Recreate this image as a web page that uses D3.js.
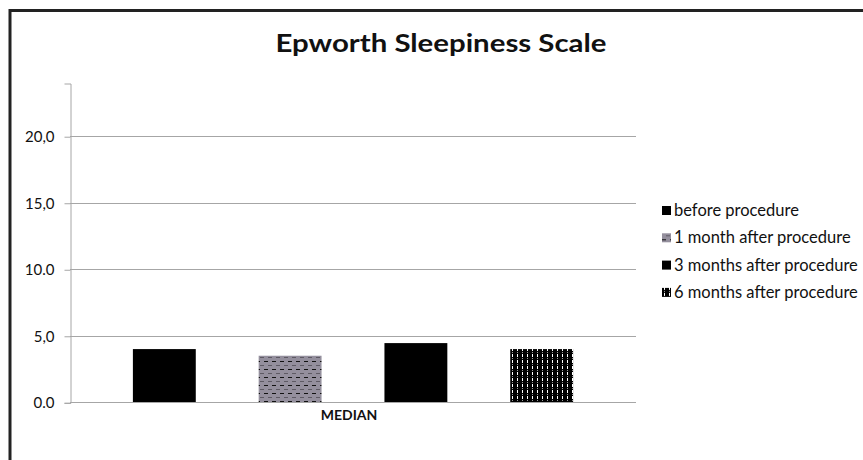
<!DOCTYPE html>
<html><head><meta charset="utf-8">
<script src="https://cdn.jsdelivr.net/npm/d3@7"></script>
<style>body{margin:0;background:#fff}svg{display:block}</style>
</head><body><svg id="c" width="863" height="460"></svg>
<script>
const title = "Epworth Sleepiness Scale";
const categories = ["MEDIAN"];
const series = ["before procedure","1 month after procedure","3 months after procedure","6 months after procedure"];
const values = [4.0, 3.5, 4.45, 4.0];
const tickValues = [0, 5, 10, 15, 20];
const tickLabels = ["0.0","5,0","10.0","15,0","20,0"];
const yMax = 24;

const svg = d3.select("#c");
const font = "Lato, Open Sans, sans-serif";
const defs = svg.append("defs");
const p1 = defs.append("pattern").attr("id","pGray").attr("patternUnits","userSpaceOnUse").attr("width",8).attr("height",8);
p1.append("rect").attr("width",8).attr("height",8).attr("fill","#948f9d");
p1.append("rect").attr("x",0).attr("y",1).attr("width",4).attr("height",1).attr("fill","#111");
p1.append("rect").attr("x",4).attr("y",5).attr("width",4).attr("height",1).attr("fill","#5e5a64");
const p2 = defs.append("pattern").attr("id","pDots").attr("patternUnits","userSpaceOnUse").attr("width",5).attr("height",6);
p2.append("rect").attr("width",5).attr("height",6).attr("fill","#000");
p2.append("rect").attr("x",2).attr("y",0).attr("width",1).attr("height",3).attr("fill","#fff");
p2.append("rect").attr("x",2).attr("y",4).attr("width",1).attr("height",1).attr("fill","#999");
const fills = ["#000","url(#pGray)","#000","url(#pDots)"];

svg.append("rect").attr("x",10).attr("y",10.5).attr("width",870).attr("height",470)
  .attr("fill","none").attr("stroke","#222").attr("stroke-width",3);

const L=70, R=636, T=83, B=402.3;
const y = d3.scaleLinear().domain([0,yMax]).range([B,T]);
const x0 = d3.scaleBand().domain(categories).range([L,R]).padding(0);
const x1 = d3.scaleBand().domain(series).range([0,x0.bandwidth()]).paddingInner(0.5).paddingOuter(0.5);

svg.append("g").selectAll("line").data(tickValues.filter(v=>v>0)).join("line")
  .attr("x1",L).attr("x2",R).attr("y1",d=>Math.round(y(d))+0.5).attr("y2",d=>Math.round(y(d))+0.5)
  .attr("stroke","#a6a6a6").attr("stroke-width",1);

const yAxis = d3.axisLeft(y).tickValues(tickValues).tickFormat((d,i)=>tickLabels[i]).tickSizeOuter(0).tickSize(6).tickPadding(10);
const gy = svg.append("g").attr("transform",`translate(${L+0.5},0.5)`).call(yAxis);
gy.select(".domain").attr("stroke","#a6a6a6");
gy.selectAll(".tick line").attr("stroke","#a6a6a6");
gy.selectAll(".tick text").attr("font-family",font).attr("font-size",15).attr("fill","#111");

svg.append("g").selectAll("rect").data(series).join("rect")
  .attr("x",(d,i)=>x0(categories[0])+x1(d))
  .attr("width",x1.bandwidth())
  .attr("y",(d,i)=>y(values[i]))
  .attr("height",(d,i)=>B-y(values[i]))
  .attr("fill",(d,i)=>fills[i]);

svg.append("line").attr("x1",L).attr("x2",R).attr("y1",Math.round(B)+0.5).attr("y2",Math.round(B)+0.5)
  .attr("stroke","#a6a6a6");

svg.append("g").selectAll("text").data(categories).join("text")
  .attr("x",d=>x0(d)+x0.bandwidth()/2-4).attr("y",420)
  .attr("text-anchor","middle").attr("font-family",font).attr("font-weight","bold")
  .attr("font-size",14).attr("fill","#111").text(d=>d);

svg.append("text").attr("x",441).attr("y",52).attr("text-anchor","middle")
  .attr("font-family",font).attr("font-weight","bold").attr("font-size",24).attr("fill","#111")
  .attr("textLength",331).attr("lengthAdjust","spacingAndGlyphs").text(title);

const lg = svg.append("g").selectAll("g").data(series).join("g")
  .attr("transform",(d,i)=>`translate(662,${211+i*27.3})`);
lg.append("rect").attr("x",0).attr("y",-5).attr("width",9).attr("height",9).attr("fill",(d,i)=>fills[i]);
lg.append("text").attr("x",12).attr("y",5).attr("font-family",font).attr("font-size",16.5).attr("fill","#111").text(d=>d);
</script></body></html>
